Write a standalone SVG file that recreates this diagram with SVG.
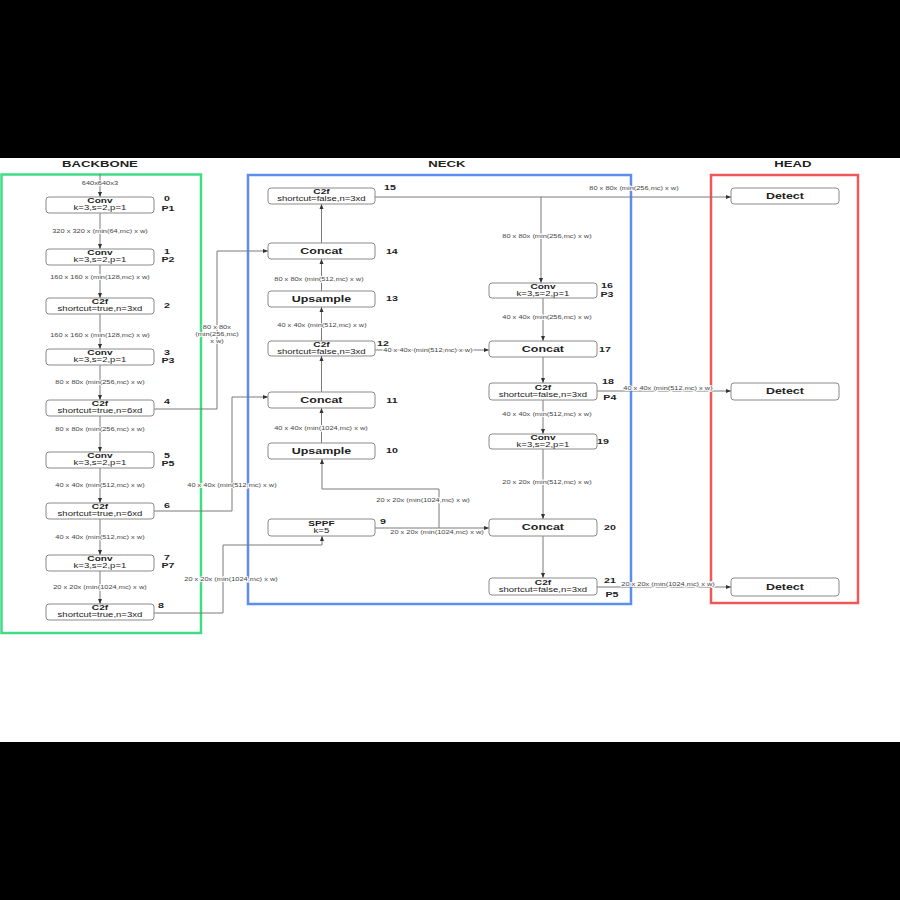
<svg xmlns="http://www.w3.org/2000/svg" width="900" height="900" viewBox="0 0 900 900">
<defs>
<style>
text{font-family:"Liberation Sans",Arial,sans-serif;text-anchor:middle;fill:#222;transform-box:fill-box;transform-origin:center;transform:scaleX(1.4)}
.ti{font-size:9.4px;font-weight:bold}
.h{font-size:7.2px;font-weight:bold}
.p{font-size:6.8px}
.b{font-size:8.9px;font-weight:bold}
.num{font-size:7.6px;font-weight:bold}
.l{font-size:5.3px;fill:#444;stroke:#fff;stroke-width:1.6px;paint-order:stroke}
.box{fill:#fff;stroke:#8a8a8a;stroke-width:1}
.e{fill:none;stroke:#7a7a7a;stroke-width:1}
.fr{fill:none;stroke-width:2.5}
</style>
<marker id="a" viewBox="0 0 10 10" refX="10" refY="5" markerWidth="5" markerHeight="5" orient="auto" markerUnits="userSpaceOnUse"><path d="M0,1 L10,5 L0,9 z" fill="#333"/></marker>
</defs>
<rect x="0" y="0" width="900" height="900" fill="#000"/>
<rect x="0" y="158" width="900" height="584" fill="#fff"/>

<g id="frames">
<rect class="fr" x="1.5" y="174.5" width="199.5" height="458.5" stroke="#3fdc86"/>
<rect class="fr" x="248" y="175" width="383" height="429" stroke="#5b8ef0"/>
<rect class="fr" x="711" y="175" width="147" height="428" stroke="#f05858"/>
<text class="ti" x="100" y="167">BACKBONE</text>
<text class="ti" x="447" y="167">NECK</text>
<text class="ti" x="793" y="167">HEAD</text>
</g>

<g id="connectors">
<path class="e" d="M100,174V197" marker-end="url(#a)"/>
<path class="e" d="M100,213V249" marker-end="url(#a)"/>
<path class="e" d="M100,265V298" marker-end="url(#a)"/>
<path class="e" d="M100,314V349" marker-end="url(#a)"/>
<path class="e" d="M100,365V400" marker-end="url(#a)"/>
<path class="e" d="M100,416V452" marker-end="url(#a)"/>
<path class="e" d="M100,468V503" marker-end="url(#a)"/>
<path class="e" d="M100,519V555" marker-end="url(#a)"/>
<path class="e" d="M100,571V604" marker-end="url(#a)"/>
<path class="e" d="M154,409H217V251H268" marker-end="url(#a)"/>
<path class="e" d="M154,511H232V397H268" marker-end="url(#a)"/>
<path class="e" d="M154,613H223V545H322V536" marker-end="url(#a)"/>
<path class="e" d="M321.5,443V408" marker-end="url(#a)"/>
<path class="e" d="M321.5,392V356" marker-end="url(#a)"/>
<path class="e" d="M321.5,341V307" marker-end="url(#a)"/>
<path class="e" d="M321.5,291V259" marker-end="url(#a)"/>
<path class="e" d="M321.5,243V204" marker-end="url(#a)"/>
<path class="e" d="M375,197H731" marker-end="url(#a)"/>
<path class="e" d="M541,197V283" marker-end="url(#a)"/>
<path class="e" d="M543,298V341" marker-end="url(#a)"/>
<path class="e" d="M375,350H489" marker-end="url(#a)"/>
<path class="e" d="M543,357V383" marker-end="url(#a)"/>
<path class="e" d="M597,391H731" marker-end="url(#a)"/>
<path class="e" d="M543,400V434" marker-end="url(#a)"/>
<path class="e" d="M543,449V519" marker-end="url(#a)"/>
<path class="e" d="M375,528H489" marker-end="url(#a)"/>
<path class="e" d="M439,528V489H322V459" marker-end="url(#a)"/>
<path class="e" d="M543,536V578" marker-end="url(#a)"/>
<path class="e" d="M597,587H731" marker-end="url(#a)"/>
<text class="l" x="100" y="185">640x640x3</text>
<text class="l" x="100" y="233">320 x 320 x (min(64,mc) x w)</text>
<text class="l" x="100" y="279">160 x 160 x (min(128,mc) x w)</text>
<text class="l" x="100" y="337">160 x 160 x (min(128,mc) x w)</text>
<text class="l" x="100" y="384">80 x 80x (min(256,mc) x w)</text>
<text class="l" x="100" y="431">80 x 80x (min(256,mc) x w)</text>
<text class="l" x="100" y="487">40 x 40x (min(512,mc) x w)</text>
<text class="l" x="100" y="539">40 x 40x (min(512,mc) x w)</text>
<text class="l" x="100" y="589">20 x 20x (min(1024,mc) x w)</text>
<text class="l" x="217" y="329">80 x 80x</text>
<text class="l" x="217" y="336">(min(256,mc)</text>
<text class="l" x="217" y="343">x w)</text>
<text class="l" x="232" y="487">40 x 40x (min(512,mc) x w)</text>
<text class="l" x="231" y="581">20 x 20x (min(1024,mc) x w)</text>
<text class="l" x="322" y="327">40 x 40x (min(512,mc) x w)</text>
<text class="l" x="319" y="281">80 x 80x (min(512,mc) x w)</text>
<text class="l" x="321" y="430">40 x 40x (min(1024,mc) x w)</text>
<text class="l" x="634" y="190">80 x 80x (min(256,mc) x w)</text>
<text class="l" x="547" y="238">80 x 80x (min(256,mc) x w)</text>
<text class="l" x="547" y="319">40 x 40x (min(256,mc) x w)</text>
<text class="l" x="428" y="352">40 x 40x (min(512,mc) x w)</text>
<text class="l" x="668" y="390">40 x 40x (min(512,mc) x w)</text>
<text class="l" x="547" y="416">40 x 40x (min(512,mc) x w)</text>
<text class="l" x="547" y="484">20 x 20x (min(512,mc) x w)</text>
<text class="l" x="423" y="502">20 x 20x (min(1024,mc) x w)</text>
<text class="l" x="437" y="534">20 x 20x (min(1024,mc) x w)</text>
<text class="l" x="668" y="586">20 x 20x (min(1024,mc) x w)</text>
</g>

<g id="n0"><rect class="box" x="46" y="197" width="108" height="16" rx="3"/><text class="h" x="100" y="203.5">Conv</text><text class="p" x="100" y="210.5">k=3,s=2,p=1</text><text class="num" x="167" y="201.5">0</text><text class="num" x="168" y="211">P1</text></g>
<g id="n1"><rect class="box" x="46" y="249" width="108" height="16" rx="3"/><text class="h" x="100" y="255.5">Conv</text><text class="p" x="100" y="262.5">k=3,s=2,p=1</text><text class="num" x="167" y="254">1</text><text class="num" x="168" y="262.5">P2</text></g>
<g id="n2"><rect class="box" x="46" y="298" width="108" height="16" rx="3"/><text class="h" x="100" y="304.5">C2f</text><text class="p" x="100" y="311.5">shortcut=true,n=3xd</text><text class="num" x="167" y="308">2</text></g>
<g id="n3"><rect class="box" x="46" y="349" width="108" height="16" rx="3"/><text class="h" x="100" y="355.5">Conv</text><text class="p" x="100" y="362.5">k=3,s=2,p=1</text><text class="num" x="167" y="355">3</text><text class="num" x="168" y="363.5">P3</text></g>
<g id="n4"><rect class="box" x="46" y="400" width="108" height="16" rx="3"/><text class="h" x="100" y="406.5">C2f</text><text class="p" x="100" y="413.5">shortcut=true,n=6xd</text><text class="num" x="167" y="404">4</text></g>
<g id="n5"><rect class="box" x="46" y="452" width="108" height="16" rx="3"/><text class="h" x="100" y="458.5">Conv</text><text class="p" x="100" y="465.5">k=3,s=2,p=1</text><text class="num" x="167" y="458">5</text><text class="num" x="168" y="466.5">P5</text></g>
<g id="n6"><rect class="box" x="46" y="503" width="108" height="16" rx="3"/><text class="h" x="100" y="509.5">C2f</text><text class="p" x="100" y="516.5">shortcut=true,n=6xd</text><text class="num" x="167" y="508">6</text></g>
<g id="n7"><rect class="box" x="46" y="555" width="108" height="16" rx="3"/><text class="h" x="100" y="561.5">Conv</text><text class="p" x="100" y="568.5">k=3,s=2,p=1</text><text class="num" x="167" y="560">7</text><text class="num" x="168" y="568.5">P7</text></g>
<g id="n8"><rect class="box" x="46" y="604" width="108" height="16" rx="3"/><text class="h" x="100" y="610.5">C2f</text><text class="p" x="100" y="617.5">shortcut=true,n=3xd</text><text class="num" x="161" y="608">8</text></g>

<g id="n9"><rect class="box" x="268" y="519" width="107" height="17" rx="3"/><text class="h" x="321.5" y="526">SPPF</text><text class="p" x="321.5" y="533.5">k=5</text><text class="num" x="383" y="524">9</text></g>
<g id="n10"><rect class="box" x="268" y="443" width="107" height="16" rx="3"/><text class="b" x="321.5" y="454">Upsample</text><text class="num" x="392" y="453.5">10</text></g>
<g id="n11"><rect class="box" x="268" y="392" width="107" height="16" rx="3"/><text class="b" x="321.5" y="403">Concat</text><text class="num" x="392" y="403">11</text></g>
<g id="n12"><rect class="box" x="268" y="341" width="107" height="15" rx="3"/><text class="h" x="321.5" y="347">C2f</text><text class="p" x="321.5" y="354">shortcut=false,n=3xd</text><text class="num" x="383" y="346">12</text></g>
<g id="n13"><rect class="box" x="268" y="291" width="107" height="16" rx="3"/><text class="b" x="321.5" y="302">Upsample</text><text class="num" x="392" y="301">13</text></g>
<g id="n14"><rect class="box" x="268" y="243" width="107" height="16" rx="3"/><text class="b" x="321.5" y="254">Concat</text><text class="num" x="392" y="254">14</text></g>
<g id="n15"><rect class="box" x="268" y="188" width="107" height="16" rx="3"/><text class="h" x="321.5" y="194.5">C2f</text><text class="p" x="321.5" y="201.5">shortcut=false,n=3xd</text><text class="num" x="390" y="190">15</text></g>

<g id="n16"><rect class="box" x="489" y="283" width="108" height="15" rx="3"/><text class="h" x="543" y="289">Conv</text><text class="p" x="543" y="296">k=3,s=2,p=1</text><text class="num" x="607" y="288">16</text><text class="num" x="607" y="297">P3</text></g>
<g id="n17"><rect class="box" x="489" y="341" width="108" height="16" rx="3"/><text class="b" x="543" y="352">Concat</text><text class="num" x="605" y="352">17</text></g>
<g id="n18"><rect class="box" x="489" y="383" width="108" height="17" rx="3"/><text class="h" x="543" y="390">C2f</text><text class="p" x="543" y="397.5">shortcut=false,n=3xd</text><text class="num" x="608" y="384">18</text><text class="num" x="610" y="400">P4</text></g>
<g id="n19"><rect class="box" x="489" y="434" width="108" height="15" rx="3"/><text class="h" x="543" y="440">Conv</text><text class="p" x="543" y="447">k=3,s=2,p=1</text><text class="num" x="603" y="444">19</text></g>
<g id="n20"><rect class="box" x="489" y="519" width="108" height="17" rx="3"/><text class="b" x="543" y="530.5">Concat</text><text class="num" x="610" y="530">20</text></g>
<g id="n21"><rect class="box" x="489" y="578" width="108" height="17" rx="3"/><text class="h" x="543" y="585">C2f</text><text class="p" x="543" y="592.5">shortcut=false,n=3xd</text><text class="num" x="610" y="583">21</text><text class="num" x="612" y="597">P5</text></g>

<g id="d1"><rect class="box" x="731" y="188" width="108" height="16" rx="3"/><text class="b" x="785" y="199">Detect</text></g>
<g id="d2"><rect class="box" x="731" y="383" width="108" height="17" rx="3"/><text class="b" x="785" y="394.5">Detect</text></g>
<g id="d3"><rect class="box" x="731" y="578" width="108" height="18" rx="3"/><text class="b" x="785" y="590">Detect</text></g>
</svg>
